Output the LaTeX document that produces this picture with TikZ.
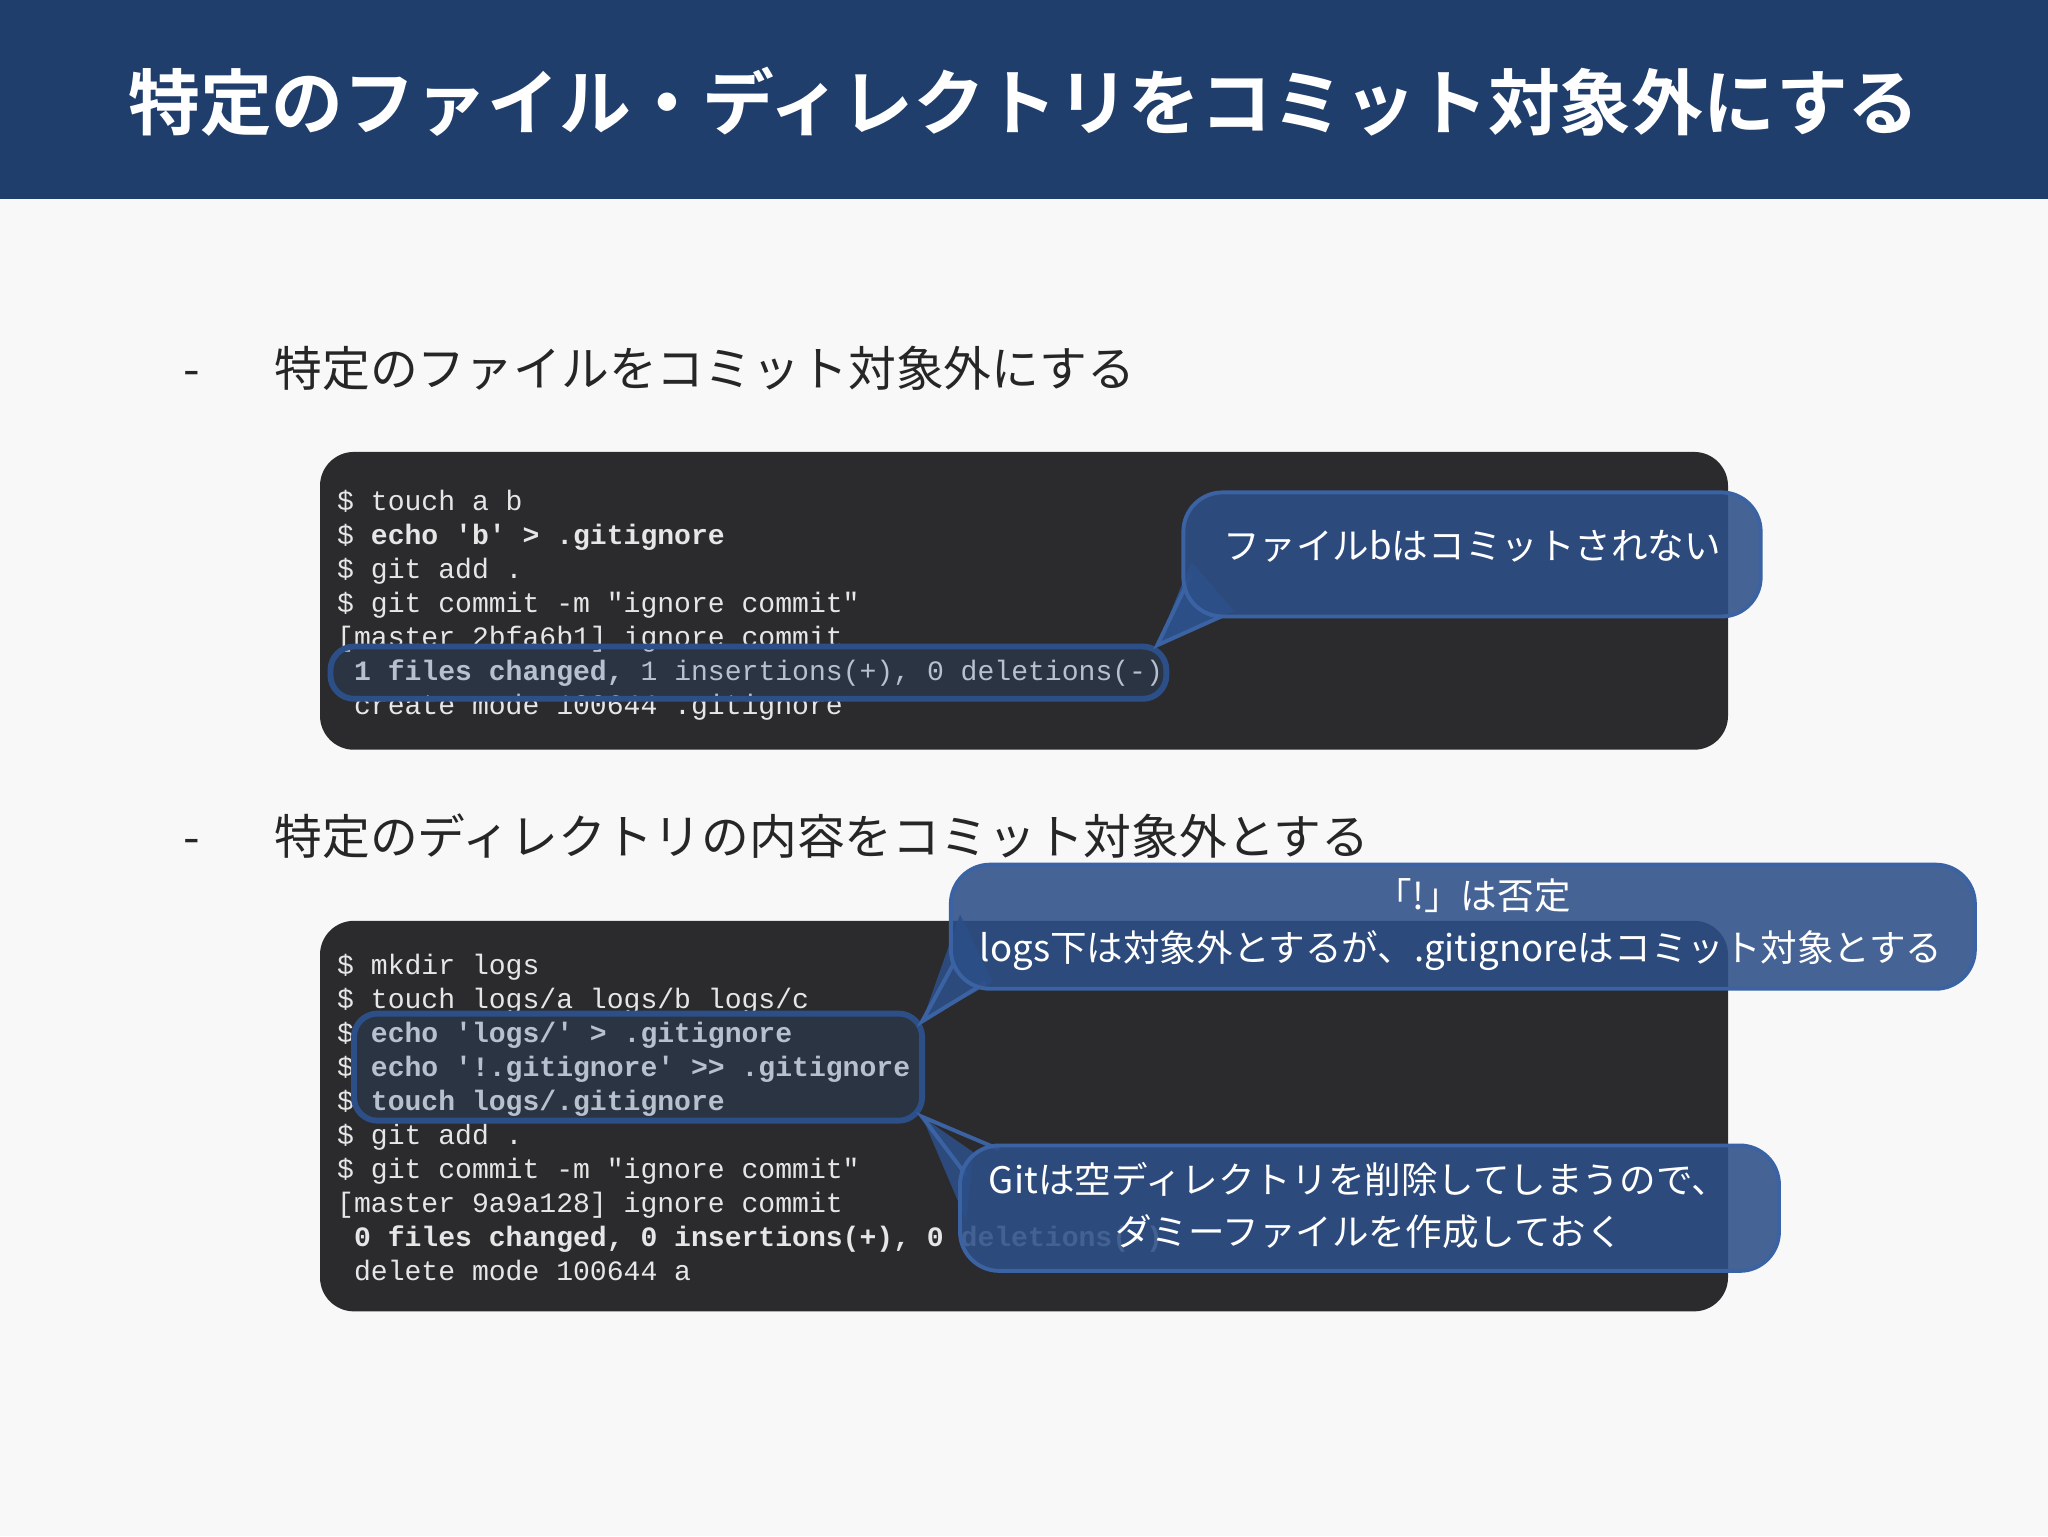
\documentclass[tikz,border=0pt]{standalone}
\usepackage{fontspec}
\setmainfont{Liberation Sans}
\newfontfamily\jp{Noto Sans CJK JP}
\newfontfamily\jpb{Noto Sans CJK JP Bold}
\newfontfamily\mono{Liberation Mono}
\definecolor{titlebg}{HTML}{1F3E6C}
\definecolor{pagebg}{HTML}{F8F8F8}
\definecolor{codebg}{HTML}{2B2B2D}
\definecolor{cfill}{HTML}{2D4F88}
\definecolor{cedge}{HTML}{3B63A3}
\definecolor{codefg}{HTML}{E6E6E6}
\tikzset{
 code/.style={anchor=base west,inner sep=0,text=codefg,font=\mono\fontsize{21.5}{26}\selectfont},
 bullet/.style={anchor=base west,inner sep=0,font=\jp\fontsize{36.6}{40}\selectfont,text=black!85},
 ctext/.style={inner sep=0,text=white,font=\jp\fontsize{28}{32}\selectfont},
 ring/.style={draw=cfill,line width=4.5pt,rounded corners=18pt,fill=cfill,fill opacity=0.25},
 callout/.style={draw=cedge,line width=3pt,rounded corners=30pt,fill=cfill,fill opacity=0.88},
}
\begin{document}
\begin{tikzpicture}[x=1pt,y=-1pt]
\fill[pagebg] (0,0) rectangle (1568,1176);
\useasboundingbox (0,0) rectangle (1568,1176);
\fill[titlebg] (0,0) rectangle (1568,152);
\node (title) at (784,78) [text=white,font=\jpb\fontsize{55}{60}\selectfont] {特定のファイル・ディレクトリをコミット対象外にする};
\node (d1) at (140,296) [bullet] {-};
\node (b1) at (210,296) [bullet] {特定のファイルをコミット対象外にする};
\node (d2) at (140,654) [bullet] {-};
\node (b2) at (210,654) [bullet] {特定のディレクトリの内容をコミット対象外とする};
% box 1
\fill[codebg,rounded corners=26pt] (245,346) rectangle (1323,574);
\node (a1) at (258,391) [code] {\$ touch a b};
\node (a2) at (258,417) [code] {\$ \textbf{echo 'b' > .gitignore}};
\node (a3) at (258,443) [code] {\$ git add .};
\node (a4) at (258,469) [code] {\$ git commit -m "ignore commit"};
\node (a5) at (258,495) [code] {[master 2bfa6b1] ignore commit};
\node (a6) at (258,521) [code] {\ \textbf{1 files changed,} 1 insertions(+), 0 deletions(-)};
\node (a7) at (258,547) [code] {\ create mode 100644 .gitignore};
\draw[ring] (253,495) rectangle (893,535);
\fill[cfill] (912,430) -- (945,468) -- (886,494) -- cycle;
\draw[cedge,line width=3pt] (912,440) -- (886,494) -- (935,472);
\draw[callout] (906,377) rectangle (1348,472);
\node (c1) at (1127,418) [ctext] {ファイルbはコミットされない};
% box 2
\fill[codebg,rounded corners=26pt] (245,705) rectangle (1323,1004);
\node (l1) at (258,746) [code] {\$ mkdir logs};
\node (l2) at (258,772) [code] {\$ touch logs/a logs/b logs/c};
\node (l3) at (258,798) [code] {\$ \textbf{echo 'logs/' > .gitignore}};
\node (l4) at (258,824) [code] {\$ \textbf{echo '!.gitignore' >> .gitignore}};
\node (l5) at (258,850) [code] {\$ \textbf{touch logs/.gitignore}};
\node (l6) at (258,876) [code] {\$ git add .};
\node (l7) at (258,902) [code] {\$ git commit -m "ignore commit"};
\node (l8) at (258,928) [code] {[master 9a9a128] ignore commit};
\node (l9) at (258,954) [code] {\ \textbf{0 files changed, 0 insertions(+), 0 deletions(-)}};
\node (l10) at (258,980) [code] {\ delete mode 100644 a};
\draw[ring] (271,776) rectangle (706,858);
% callout 2
\fill[cfill,fill opacity=0.88] (735,700) -- (760,752) -- (706,782) -- cycle;
\draw[cedge,line width=3pt] (730,738) -- (706,782) -- (755,752);
\draw[callout] (728,662) rectangle (1512,757);
\node (c2a) at (1128,686) [ctext] {「!」は否定};
\node (c2b) at (750,728) [ctext,anchor=west] {logs下は対象外とするが、.gitignoreはコミット対象とする};
% callout 3
\fill[cfill,fill opacity=0.88] (745,882) -- (740,935) -- (706,855) -- cycle;
\draw[cedge,line width=3pt] (740,900) -- (706,855) -- (765,880);
\draw[callout] (735,877) rectangle (1362,973);
\node (c3a) at (1040,903) [ctext] {Gitは空ディレクトリを削除してしまうので、};
\node (c3b) at (1048,943) [ctext] {ダミーファイルを作成しておく};
\end{tikzpicture}
\end{document}
